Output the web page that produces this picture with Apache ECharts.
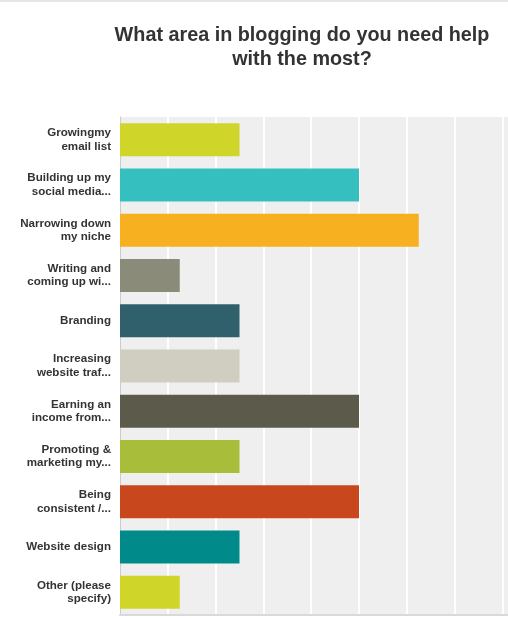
<!DOCTYPE html>
<html>
<head>
<meta charset="utf-8">
<script src="https://cdn.jsdelivr.net/npm/echarts@6/dist/echarts.min.js"></script>
<style>
  html, body { margin: 0; padding: 0; background: #fff; }
  #chart { width: 508px; height: 618px; }
</style>
</head>
<body>
<div id="chart"></div>
<script>
// answer choices, top to bottom (truncated like the survey tool does)
var answerLabels = [
    'Growingmy\nemail list',
    'Building up my\nsocial media...',
    'Narrowing down\nmy niche',
    'Writing and\ncoming up wi...',
    'Branding',
    'Increasing\nwebsite traf...',
    'Earning an\nincome from...',
    'Promoting &\nmarketing my...',
    'Being\nconsistent /...',
    'Website design',
    'Other (please\nspecify)'
];
// percent of respondents
var answerPercent = [25, 50, 62.5, 12.5, 25, 25, 50, 25, 50, 25, 12.5];
var barColors = [
    '#d0d52a', '#35bfbf', '#f7b01f', '#8b8b7a', '#2f606b', '#cfcec1',
    '#5c5b4b', '#a8bd39', '#c9471d', '#008b8a', '#d0d52a'
];

var chart = echarts.init(document.getElementById('chart'));

var option = {
    animation: false,
    backgroundColor: '#fff',
    title: {
        text: 'What area in blogging do you need help\nwith the most?',
        left: 297,
        textAlign: 'center',
        top: 19,
        textStyle: {
            fontFamily: 'Liberation Sans, Arial, sans-serif',
            fontWeight: 'bold',
            fontSize: 19.8,
            lineHeight: 24,
            color: '#333'
        }
    },
    graphic: [{
        type: 'rect',
        shape: { x: 0, y: 0, width: 508, height: 2 },
        style: { fill: '#e6e6e6' },
        silent: true
    }],
    grid: {
        left: 120,
        top: 117,
        width: 478,
        height: 498,
        outerBoundsMode: 'none',
        containLabel: false,
        show: true,
        backgroundColor: '#efefef',
        borderWidth: 0
    },
    xAxis: {
        type: 'value',
        min: 0,
        max: 100,
        interval: 10,
        axisLabel: { show: false },
        axisTick: { show: false },
        axisLine: { show: true, lineStyle: { color: '#d9d9d9', width: 2 } },
        splitLine: { show: true, lineStyle: { color: '#ffffff', width: 2 } }
    },
    yAxis: {
        type: 'category',
        inverse: true,
        data: answerLabels,
        axisTick: { show: false },
        axisLine: { show: true, lineStyle: { color: '#cccccc', width: 1 } },
        axisLabel: {
            margin: 9,
            fontFamily: 'Liberation Sans, Arial, sans-serif',
            fontWeight: 'bold',
            fontSize: 11.6,
            lineHeight: 13.5,
            color: '#333'
        }
    },
    series: [{
        type: 'bar',
        data: answerPercent,
        barWidth: 33,
        itemStyle: {
            color: function (params) {
                return barColors[params.dataIndex];
            }
        }
    }]
};

chart.setOption(option);
</script>
</body>
</html>
